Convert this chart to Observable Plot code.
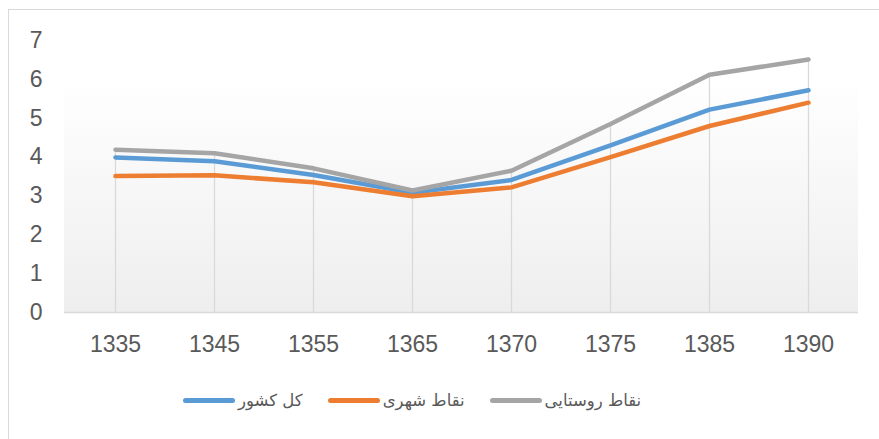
<!DOCTYPE html>
<html><head><meta charset="utf-8">
<script src="https://cdn.jsdelivr.net/npm/d3@7"></script>
<script src="https://cdn.jsdelivr.net/npm/@observablehq/plot@0.6"></script>
<style>
body{margin:0;background:#fff;}
#wrap{position:relative;width:879px;height:439px;overflow:hidden;background:#fff;}
#border{position:absolute;left:8px;top:9px;width:900px;height:460px;border-left:1.5px solid #d9d9d9;border-top:1.5px solid #d9d9d9;}
#chart{position:absolute;left:0;top:0;}
#legend{position:absolute;left:183px;top:391px;display:flex;align-items:center;font-family:"DejaVu Sans",sans-serif;font-size:16.5px;color:#595959;white-space:nowrap;}
.item{display:flex;align-items:center;margin-right:25px;}
.sw{width:52px;height:5px;border-radius:3px;margin-right:3px;}
</style></head>
<body>
<div id="wrap"><div id="border"></div><div id="chart"></div><div id="legend"></div></div>
<script>
const years = ["1335","1345","1355","1365","1370","1375","1385","1390"];
const seriesNames = ["کل کشور","نقاط شهری","نقاط روستایی"];
const seriesColors = ["#5b9bd5","#ed7d31","#a5a5a5"];
const totalValues = [3.99, 3.89, 3.54, 3.08, 3.41, 4.30, 5.22, 5.72];
const urbanValues = [3.51, 3.53, 3.35, 2.99, 3.22, 4.00, 4.80, 5.40];
const ruralValues = [4.19, 4.10, 3.71, 3.14, 3.65, 4.85, 6.12, 6.51];
const yTicks = [0,1,2,3,4,5,6,7];

const seriesValues = [totalValues, urbanValues, ruralValues];
const rows = [];
seriesNames.forEach((name, si) => {
  years.forEach((yr, i) => rows.push({year: yr, value: seriesValues[si][i], name}));
});
const drops = years.map((yr, i) => ({year: yr, top: Math.max(...seriesValues.map(v => v[i]))}));

function bgGradient(index, scales, values, dims) {
  const ns = "http://www.w3.org/2000/svg";
  const g = document.createElementNS(ns, "g");
  const top = 77;
  g.innerHTML = `<defs><linearGradient id="bggrad" x1="0" y1="0" x2="0" y2="1"><stop offset="0" stop-color="#ffffff"/><stop offset="1" stop-color="#eeeeee"/></linearGradient></defs><rect x="${dims.marginLeft}" y="${top}" width="${dims.width - dims.marginLeft - dims.marginRight}" height="${dims.height - dims.marginBottom - top}" fill="url(#bggrad)"/>`;
  return g;
}

const chart = Plot.plot({
  width: 879, height: 372,
  marginLeft: 64, marginRight: 21, marginTop: 40, marginBottom: 60,
  style: {fontFamily: "'Liberation Sans', Arial, sans-serif", fontSize: "23px", color: "#595959", background: "transparent"},
  x: {type: "point", domain: years, padding: 0.5, label: null, tickSize: 0, tickPadding: 23},
  y: {domain: [0, 7], ticks: yTicks, tickFormat: d3.format("d"), label: null, tickSize: 0, tickPadding: 22},
  color: {domain: seriesNames, range: seriesColors},
  marks: [
    bgGradient,
    Plot.ruleX(drops, {x: "year", y1: 0, y2: "top", stroke: "#d9d9d9", strokeWidth: 1.3}),
    Plot.ruleY([0], {stroke: "#d9d9d9", strokeWidth: 1.5}),
    Plot.lineY(rows, {x: "year", y: "value", z: "name", stroke: "name", strokeWidth: 4.5, strokeLinecap: "round", strokeLinejoin: "round"})
  ]
});
document.getElementById("chart").appendChild(chart);

const legend = document.getElementById("legend");
seriesNames.forEach((name, i) => {
  const item = document.createElement("div");
  item.className = "item";
  const sw = document.createElement("span");
  sw.className = "sw";
  sw.style.background = seriesColors[i];
  const t = document.createElement("span");
  t.textContent = name;
  t.dir = "rtl";
  item.appendChild(sw);
  item.appendChild(t);
  legend.appendChild(item);
});
</script>
</body></html>
